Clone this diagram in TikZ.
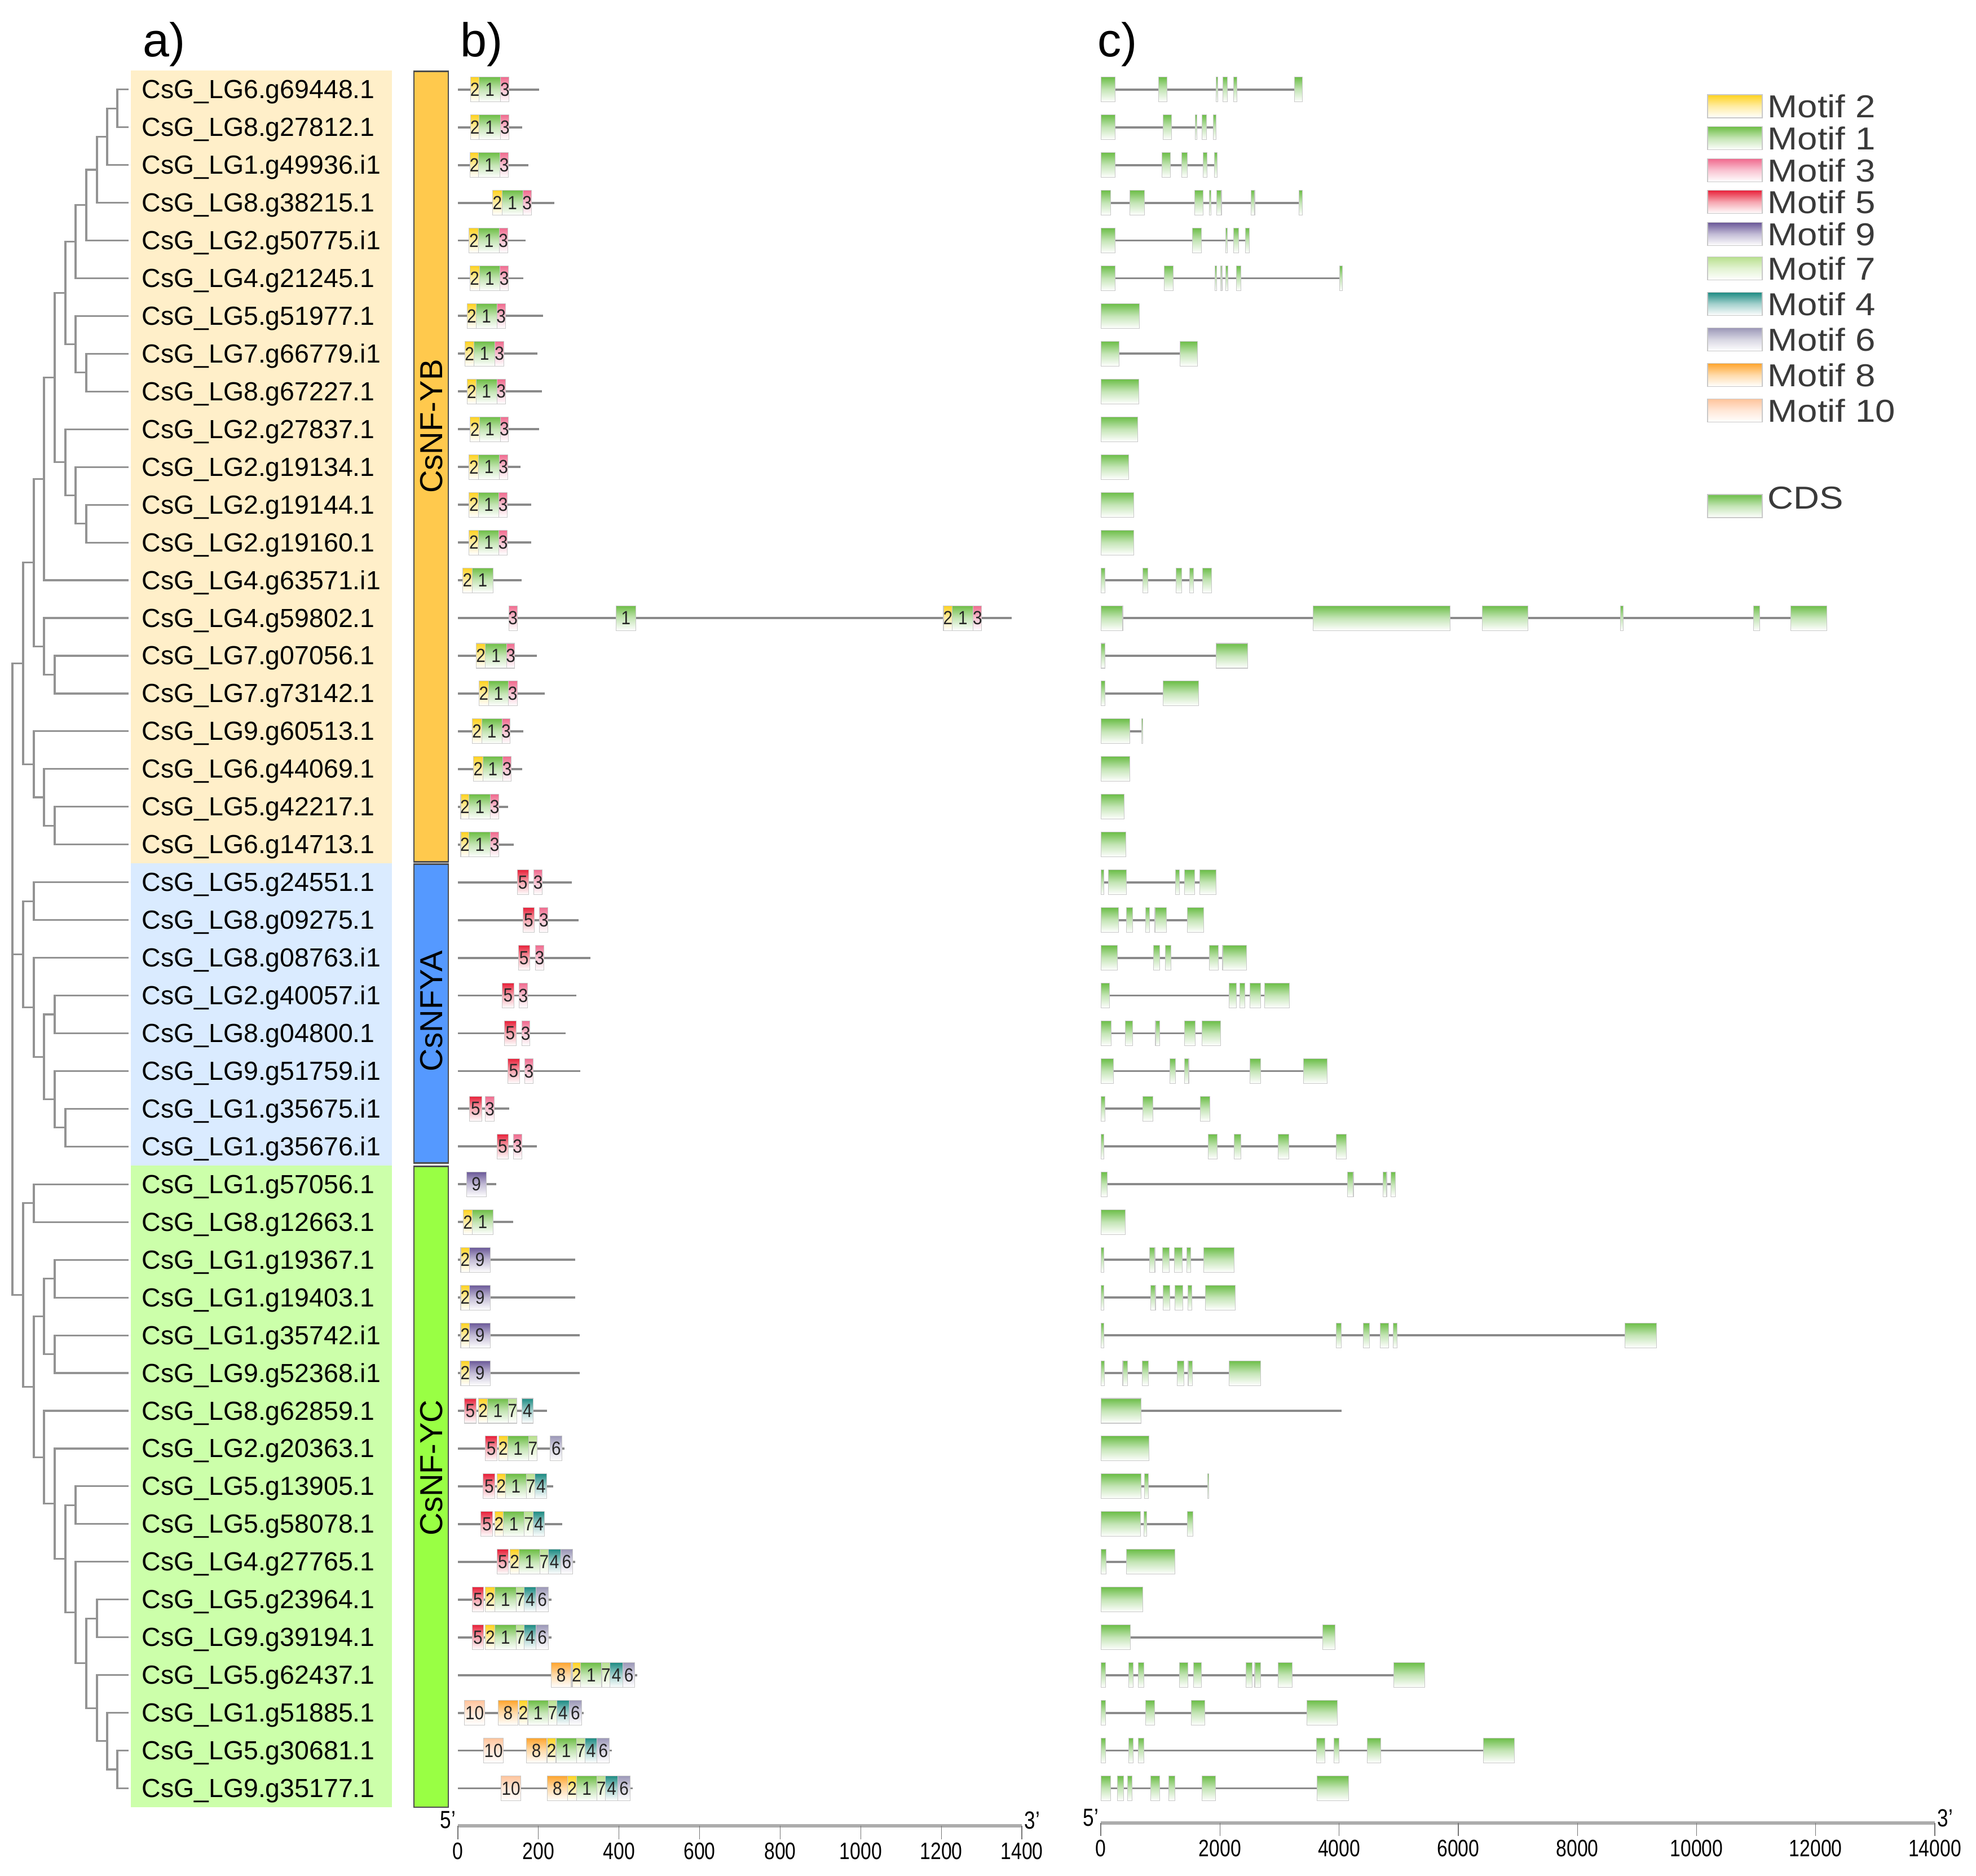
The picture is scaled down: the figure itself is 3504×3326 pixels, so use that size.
\documentclass[tikz,border=0pt]{standalone}
\usepackage{graphicx}
\usepackage{fontspec}
\setmainfont{Liberation Sans}
\definecolor{ybg}{HTML}{FFEFC9}
\definecolor{bbg}{HTML}{DAEBFF}
\definecolor{gbg}{HTML}{CCFFAA}
\definecolor{ybar}{HTML}{FFC94D}
\definecolor{bbar}{HTML}{5599FF}
\definecolor{gbar}{HTML}{99FF44}
\definecolor{barframe}{HTML}{4D4D4D}
\definecolor{treegray}{HTML}{939393}
\definecolor{linegray}{HTML}{8A8A8A}
\definecolor{boxedge}{HTML}{C8C8C8}
\definecolor{legtext}{HTML}{3A3A3A}
\definecolor{m1}{HTML}{6DBE45}
\definecolor{m2}{HTML}{FFD21F}
\definecolor{m3}{HTML}{F06A8E}
\definecolor{m4}{HTML}{1E8C84}
\definecolor{m5}{HTML}{E8213A}
\definecolor{m6}{HTML}{9C98B8}
\definecolor{m7}{HTML}{B8E08E}
\definecolor{m8}{HTML}{FFA52E}
\definecolor{m9}{HTML}{6A5898}
\definecolor{m10}{HTML}{FFC49C}
\definecolor{cds}{HTML}{6CBE48}
\newcount\motcnt
\newcommand\protrow[3]{%
  \draw[pline] (0,{ry(#1)}) -- (#2,{ry(#1)});
  \foreach \a/\b/\m in {#3}{
    \shadedraw[mbox=\m] (\a,{ry(#1)-22}) rectangle (\b,{ry(#1)+22});
    \global\advance\motcnt by 1
    \node[mnum,name=mt\the\motcnt] at ({(\a+\b)/2},{ry(#1)}) {\scalebox{0.88}[1]{\m}};
  }}
\newcommand\generow[3]{%
  \draw[gline] (23,{ry(#1)}) -- (#2,{ry(#1)});
  \foreach \a/\b in {#3}{
    \shadedraw[exon] (\a,{ry(#1)-22}) rectangle (\b,{ry(#1)+22});
  }}
\begin{document}
\begin{tikzpicture}[x=0.01cm,y=-0.01cm,
  declare function={ry(\k)=158.7+(\k-1)*66.95;},
  treeline/.style={draw=treegray,line width=0.9pt},
  lab/.style={anchor=base west,inner sep=0pt,font=\fontsize{13.2}{14}\selectfont},
  bartxt/.style={rotate=90,inner sep=0pt,font=\fontsize{16}{18}\selectfont},
  letter/.style={anchor=base west,inner sep=0pt,font=\fontsize{24}{26}\selectfont},
  pline/.style={draw=linegray,line width=1.1pt},
  gline/.style={draw=linegray,line width=1.1pt},
  mbox/.style={top color=m#1,bottom color=white,middle color=m#1!40!white,draw=boxedge,line width=0.3pt},
  mnum/.style={inner sep=0pt,text=black!85,font=\fontsize{9.6}{10}\selectfont},
  exon/.style={top color=cds,bottom color=white,middle color=cds!40!white,draw=boxedge,line width=0.3pt},
  axisbar/.style={draw=gray!65,line width=1.8pt},
  tickln/.style={draw=black!55,line width=0.35pt},
  axlab/.style={inner sep=0pt,font=\fontsize{12}{13}\selectfont},
  primelab/.style={inner sep=0pt,font=\fontsize{12.5}{13}\selectfont},
  legtxt/.style={anchor=west,inner sep=0pt,text=legtext,font=\fontsize{16}{17}\selectfont},
  swatch/.style={top color=#1,bottom color=white,middle color=#1!40!white,draw=boxedge,line width=0.4pt}]
\useasboundingbox (0,0) rectangle (3504,3326);

% ---------- panel letters
\node[letter] (la) at (253,100) {a)};
\node[letter] (lb) at (816,100) {b)};
\node[letter] (lc) at (1946,100) {c)};

% ---------- label backgrounds
\fill[ybg] (232,{ry(0.5)}) rectangle (695,{ry(21.5)});
\fill[bbg] (232,{ry(21.5)}) rectangle (695,{ry(29.5)});
\fill[gbg] (232,{ry(29.5)}) rectangle (695,{ry(46.5)});

% ---------- labels and leaves
\foreach \i/\t in {1/LG6.g69448.1,2/LG8.g27812.1,3/LG1.g49936.i1,4/LG8.g38215.1,
  5/LG2.g50775.i1,6/LG4.g21245.1,7/LG5.g51977.1,8/LG7.g66779.i1,9/LG8.g67227.1,
  10/LG2.g27837.1,11/LG2.g19134.1,12/LG2.g19144.1,13/LG2.g19160.1,14/LG4.g63571.i1,
  15/LG4.g59802.1,16/LG7.g07056.1,17/LG7.g73142.1,18/LG9.g60513.1,19/LG6.g44069.1,
  20/LG5.g42217.1,21/LG6.g14713.1,22/LG5.g24551.1,23/LG8.g09275.1,24/LG8.g08763.i1,
  25/LG2.g40057.i1,26/LG8.g04800.1,27/LG9.g51759.i1,28/LG1.g35675.i1,29/LG1.g35676.i1,
  30/LG1.g57056.1,31/LG8.g12663.1,32/LG1.g19367.1,33/LG1.g19403.1,34/LG1.g35742.i1,
  35/LG9.g52368.i1,36/LG8.g62859.1,37/LG2.g20363.1,38/LG5.g13905.1,39/LG5.g58078.1,
  40/LG4.g27765.1,41/LG5.g23964.1,42/LG9.g39194.1,43/LG5.g62437.1,44/LG1.g51885.1,
  45/LG5.g30681.1,46/LG9.g35177.1}{
  \coordinate (l\i) at (228,{ry(\i)});
  \node[lab] (g\i) at (251,{ry(\i)+16}) {CsG\_\t};
}

% ---------- tree
\foreach \n/\x/\r in {nA/208/1.5,nB/190/2.25,nC/172/3.125,nD/153/4.0625,nE/134/5.03125,
  nH/153/8.5,nG/134/7.75,nF/116/6.390625,nL/153/12.5,nK/134/11.75,nJ/116/10.875,
  nI/97/8.6328,nM/78/11.3164,nP/97/16.5,nO/78/15.75,nN/60/13.5332,nT/97/20.5,
  nS/78/19.75,nR/60/18.875,nQ/41/16.2041,
  nU/60/22.5,nZ/97/25.5,nAB/116/28.5,nAA/97/27.75,nY/78/26.625,nV/60/25.3125,nW/41/23.9063,
  nAC/60/30.5,nAH/97/32.5,nAI/97/34.5,nAF/78/33.5,nAR/208/45.5,nAQ/190/44.75,
  nAP/172/43.875,nAO/172/41.5,nAN/153/42.6875,nAM/134/41.34375,nAL/134/38.5,
  nAK/116/39.9219,nAJ/97/38.4609,nAG/78/37.2305,nAE/60/35.3652,nAD/41/32.9326,
  root/22/24.5}{
  \coordinate (\n) at (\x,{ry(\r)});
}
\foreach \p/\c in {nA/l1,nA/l2,nB/nA,nB/l3,nC/nB,nC/l4,nD/nC,nD/l5,nE/nD,nE/l6,
  nH/l8,nH/l9,nG/l7,nG/nH,nF/nE,nF/nG,nL/l12,nL/l13,nK/l11,nK/nL,nJ/l10,nJ/nK,
  nI/nF,nI/nJ,nM/nI,nM/l14,nP/l16,nP/l17,nO/l15,nO/nP,nN/nM,nN/nO,nT/l20,nT/l21,
  nS/l19,nS/nT,nR/l18,nR/nS,nQ/nN,nQ/nR,
  nU/l22,nU/l23,nZ/l25,nZ/l26,nAB/l28,nAB/l29,nAA/l27,nAA/nAB,nY/nZ,nY/nAA,
  nV/l24,nV/nY,nW/nU,nW/nV,
  nAC/l30,nAC/l31,nAH/l32,nAH/l33,nAI/l34,nAI/l35,nAF/nAH,nAF/nAI,nAR/l45,nAR/l46,
  nAQ/l44,nAQ/nAR,nAP/l43,nAP/nAQ,nAO/l41,nAO/l42,nAN/nAO,nAN/nAP,nAM/l40,nAM/nAN,
  nAL/l38,nAL/l39,nAK/nAL,nAK/nAM,nAJ/l37,nAJ/nAK,nAG/l36,nAG/nAJ,nAE/nAF,nAE/nAG,
  nAD/nAC,nAD/nAE,root/nQ,root/nW,root/nAD}{
  \draw[treeline] (\p) |- (\c);
}

% ---------- subfamily bars
\draw[barframe,line width=0.8pt,fill=ybar] (734,{ry(0.5)+1}) rectangle (795,{ry(21.5)-3});
\draw[barframe,line width=0.8pt,fill=bbar] (734,{ry(21.5)+1}) rectangle (795,{ry(29.5)-4});
\draw[barframe,line width=0.8pt,fill=gbar] (734,{ry(29.5)+2}) rectangle (795,{ry(46.5)});
\node[bartxt] (tYB) at (765,756) {CsNF-YB};
\node[bartxt] (tYA) at (765,1793) {CsNFYA};
\node[bartxt] (tYC) at (765,2603) {CsNF-YC};

% ---------- panel b: motifs
\begin{scope}[shift={(812,0)},x=0.007143cm]
\protrow{1}{201}{31.6/52.4/2,52.4/106.3/1,106.3/127.1/3}
\protrow{2}{160}{31.6/52.4/2,52.4/106.3/1,106.3/127.1/3}
\protrow{3}{175}{29.7/51.5/2,51.5/104.4/1,104.4/125.2/3}
\protrow{4}{239}{86.5/109.2/2,109.2/161.2/1,161.2/182/3}
\protrow{5}{168}{27.8/51.5/2,51.5/102.5/1,102.5/123.4/3}
\protrow{6}{163}{29.7/53.4/2,53.4/104.4/1,104.4/125.2/3}
\protrow{7}{211}{23.1/44.9/2,44.9/96.9/1,96.9/117.7/3}
\protrow{8}{198}{17.4/40.1/2,40.1/92.1/1,92.1/113.9/3}
\protrow{9}{208}{23.1/44.9/2,44.9/96.9/1,96.9/117.7/3}
\protrow{10}{201}{30.7/53.4/2,53.4/105.4/1,105.4/125.2/3}
\protrow{11}{155}{27.8/51.5/2,51.5/102.5/1,102.5/123.4/3}
\protrow{12}{182}{27.8/51.5/2,51.5/101.6/1,101.6/122.4/3}
\protrow{13}{182}{27.8/51.5/2,51.5/101.6/1,101.6/122.4/3}
\protrow{14}{158}{11.8/35.4/2,35.4/87.4/1}
\protrow{15}{1374}{126.2/147/3,392/442/1,1205/1227/2,1227/1279/1,1279/1300/3}
\protrow{16}{196}{44.9/68.5/2,68.5/120.5/1,120.5/141.3/3}
\protrow{17}{215}{52.4/76.1/2,76.1/125.2/1,125.2/147/3}
\protrow{18}{163}{35.4/59/2,59/109.2/1,109.2/130/3}
\protrow{19}{160}{38.2/61.9/2,61.9/111/1,111/132.8/3}
\protrow{20}{125}{7/27.8/2,27.8/80.8/1,80.8/101.6/3}
\protrow{21}{139}{7/27.8/2,27.8/80.8/1,80.8/101.6/3}
\protrow{22}{283}{147/175.4/5,188.6/209.4/3}
\protrow{23}{300}{161.2/189.5/5,202.8/223.6/3}
\protrow{24}{329}{149.8/178.2/5,192.4/213.2/3}
\protrow{25}{294}{109.2/139.4/5,151.7/172.5/3}
\protrow{26}{267}{115.8/144.2/5,158.3/178.2/3}
\protrow{27}{303}{123.4/153.6/5,165.9/186.7/3}
\protrow{28}{128}{28.8/59/5,68.5/90.2/3}
\protrow{29}{196}{96.9/125.2/5,137.5/158.3/3}
\protrow{30}{95}{21.2/70.4/9}
\protrow{31}{137.5}{13.6/35.4/2,35.4/87.4/1}
\protrow{32}{291}{7/28.8/2,28.8/80.8/9}
\protrow{33}{291}{7/28.8/2,28.8/80.8/9}
\protrow{34}{302}{7/28.8/2,28.8/80.8/9}
\protrow{35}{302}{7/28.8/2,28.8/80.8/9}
\protrow{36}{221}{16.5/44.9/5,51.5/73.2/2,73.2/125.2/1,125.2/146/7,158.3/186.7/4}
\protrow{37}{265}{68.5/96.9/5,101.6/123.4/2,123.4/175.4/1,175.4/196.2/7,229.3/258.6/6}
\protrow{38}{237}{62.8/92.1/5,96.9/118.6/2,118.6/169.7/1,169.7/191.4/7,191.4/220.8/4}
\protrow{39}{259.5}{57.1/86.5/5,91.2/112.9/2,112.9/164.9/1,164.9/186.7/7,186.7/215.1/4}
\protrow{40}{291}{96.9/125.2/5,130/151.7/2,151.7/203.7/1,203.7/224.5/7,224.5/254.8/4,254.8/285/6}
\protrow{41}{232}{35.4/63.8/5,68.5/92.1/2,92.1/144.2/1,144.2/164.9/7,164.9/194.3/4,194.3/224.5/6}
\protrow{42}{232}{35.4/63.8/5,68.5/92.1/2,92.1/144.2/1,144.2/164.9/7,164.9/194.3/4,194.3/224.5/6}
\protrow{43}{445}{231.2/281.3/8,284.1/304.9/2,304.9/356.9/1,356.9/377.7/7,377.7/409/4,409/439.2/6}
\protrow{44}{312.5}{16.5/66.6/10,99.7/148.9/8,151.7/173.5/2,173.5/224.5/1,224.5/245.3/7,245.3/276.6/4,276.6/306.8/6}
\protrow{45}{382.5}{63.8/112.9/10,169.7/219.8/8,221.7/243.5/2,243.5/294.5/1,294.5/315.3/7,315.3/345.6/4,345.6/375.9/6}
\protrow{46}{434.5}{107.3/156.4/10,221.7/271.8/8,272.8/294.5/2,294.5/345.6/1,345.6/366.4/7,366.4/396.7/4,396.7/427.9/6}
\end{scope}

% ---------- panel c: gene structures
\begin{scope}[shift={(1930,0)},x=0.0098212cm]
\generow{1}{386}{23/48,127/142,230/233,243/251,262/268,372/386}
\generow{2}{230}{23/48,135/150,193/196,205/213,225/230}
\generow{3}{232}{23/48,133/148,168/178,207/214,227/232}
\generow{4}{386}{23/40,75/101,192/207,218/221,231/240,293/300,380/386}
\generow{5}{290}{23/48,188/204,248/251,262/271,283/290}
\generow{6}{458}{23/48,137/153,228/231,238/241,248/252,267/275,453/458}
\generow{7}{92}{23/92}
\generow{8}{197}{23/55,165/197}
\generow{9}{91}{23/91}
\generow{10}{89}{23/89}
\generow{11}{73}{23/73}
\generow{12}{82}{23/82}
\generow{13}{82}{23/82}
\generow{14}{222}{23/30,98/107,158/168,183/190,206/222}
\generow{15}{1332}{23/62,405/652,710/793,960/965,1200/1211,1267/1332}
\generow{16}{287}{23/30,230/287}
\generow{17}{199}{23/30,135/199}
\generow{18}{98}{23/75,96/98}
\generow{19}{75}{23/75}
\generow{20}{65}{23/65}
\generow{21}{68}{23/68}
\generow{22}{230}{23/28,36/69,157/164,173/192,201/230}
\generow{23}{208}{23/54,69/80,103/110,120/141,178/208}
\generow{24}{285}{23/52,117/129,139/149,218/234,242/285}
\generow{25}{363}{23/38,254/267,273/282,291/311,318/363}
\generow{26}{238}{23/41,67/80,121/129,173/193,205/238}
\generow{27}{431}{23/45,147/157,173/181,291/311,388/431}
\generow{28}{219}{23/30,98/116,202/219}
\generow{29}{465}{23/28,216/232,263/275,342/362,447/465}
\generow{30}{554}{23/34,467/478,531/538,546/554}
\generow{31}{67}{23/67}
\generow{32}{263}{23/28,110/120,134/146,155/169,177/185,208/263}
\generow{33}{265}{23/28,112/121,135/147,156/170,179/187,211/265}
\generow{34}{1025}{23/28,447/456,496/507,526/542,550/557,968/1025}
\generow{35}{311}{23/29,62/71,97/108,160/172,180/188,254/311}
\generow{36}{457}{23/95}
\generow{37}{109}{23/109}
\generow{38}{217}{23/95,101/108,215/217}
\generow{39}{189}{23/94,100/105,178/189}
\generow{40}{156}{23/32,69/156}
\generow{41}{98}{23/98}
\generow{42}{445}{23/76,423/445}
\generow{43}{607}{23/31,73/81,90/100,164/179,190/204,284/295,300/311,342/368,551/607}
\generow{44}{449}{23/31,103/119,186/210,394/449}
\generow{45}{768}{23/31,73/81,90/100,411/427,443/452,503/527,712/768}
\generow{46}{469}{23/40,52/64,71/79,112/129,145/156,205/229,412/469}
\end{scope}

% ---------- axes
\coordinate (bax0) at (812,3238);
\coordinate (bax1) at (1812,3238);
\draw[axisbar] (bax0) -- (bax1);
\foreach \k/\v in {0/0,1/200,2/400,3/600,4/800,5/1000,6/1200,7/1400}{
  \draw[tickln] ({812+142.857*\k},3238) -- ({812+142.857*\k},3262);
  \node[axlab,name=bt\k] at ({812+142.857*\k},3283) {\scalebox{0.8}[1]{\v}};
}
\node[primelab,anchor=east] (b5) at (809,3228) {\scalebox{0.8}[1]{5'}};
\node[primelab,anchor=west] (b3) at (1816,3228) {\scalebox{0.8}[1]{3'}};

\coordinate (cax0) at (1952,3233);
\coordinate (cax1) at (3431,3233);
\draw[axisbar] (cax0) -- (cax1);
\foreach \k/\v in {0/0,1/2000,2/4000,3/6000,4/8000,5/10000,6/12000,7/14000}{
  \draw[tickln] ({1952+211.286*\k},3233) -- ({1952+211.286*\k},3256);
  \node[axlab,name=ct\k] at ({1952+211.286*\k},3278) {\scalebox{0.8}[1]{\v}};
}
\node[primelab,anchor=east] (c5) at (1949,3224) {\scalebox{0.8}[1]{5'}};
\node[primelab,anchor=west] (c3) at (3435,3224) {\scalebox{0.8}[1]{3'}};

% ---------- legend
\foreach \m/\yy in {2/188.5,1/245,3/302,5/358,9/415,7/476,4/539,6/602,8/665,10/728}{
  \shadedraw[swatch=m\m] (3028,\yy-20.5) rectangle (3125,\yy+20.5);
  \node[legtxt,name=lg\m] at (3134,\yy) {\scalebox{1.13}[1]{Motif \m}};
}
\shadedraw[swatch=cds] (3028,877) rectangle (3125,918);
\node[legtxt] (lgcds) at (3134,883) {\scalebox{1.13}[1]{CDS}};
\end{tikzpicture}
\end{document}
